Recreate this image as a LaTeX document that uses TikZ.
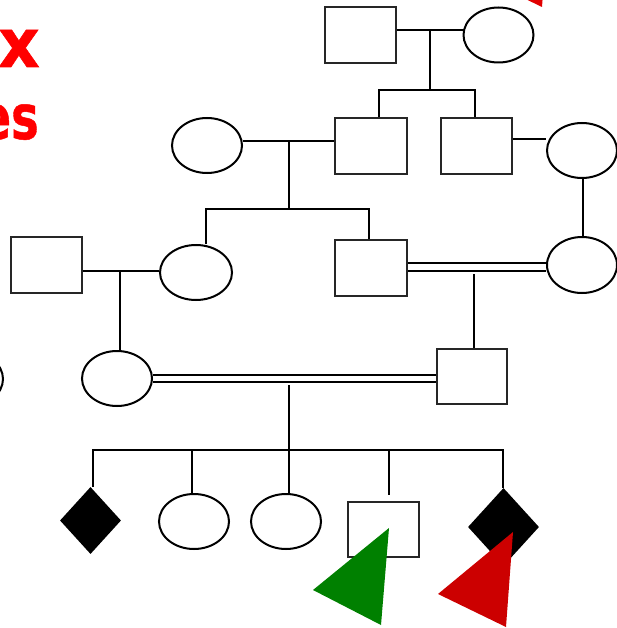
\documentclass[tikz,border=0pt]{standalone}
\usepackage{fontspec}
\newfontfamily\headfont{DejaVu Sans}[BoldFeatures={FakeBold=0.8}]
\usetikzlibrary{shapes.geometric}

\definecolor{arrowred}{RGB}{204,0,0}
\definecolor{toptri}{RGB}{225,0,0}
\definecolor{arrowgreen}{RGB}{0,128,0}

\tikzset{
  male/.style={rectangle, draw=black!85, line width=2pt, fill=white,
    minimum width=71pt, minimum height=56pt, inner sep=0pt},
  female/.style={ellipse, draw=black, line width=2pt, fill=white,
    minimum width=70pt, minimum height=55pt, inner sep=0pt},
  affected/.style={diamond, fill=black, inner sep=0pt},
  link/.style={line width=2pt},
  heavylink/.style={line width=2.8pt},
  consang/.style={line width=2pt, double=white},
  headline/.style={text=red, inner sep=0pt, anchor=base east},
}
% bold heading type, optionally condensed
\newcommand{\narrowhead}[3]{{\headfont\bfseries\fontsize{#1}{#1}\selectfont\scalebox{#2}[1]{#3}}}

\begin{document}
\begin{tikzpicture}[x=1pt, y=-1pt]
\useasboundingbox (0,0) rectangle (617,628);
\clip (0,0) rectangle (617,628);

% heading fragments
\node[headline] (head1) at (40,67) {\narrowhead{68}{0.95}{x}};
\node[headline] (head2) at (39,139) {\narrowhead{62}{0.75}{es}};

% generation I
\node[male]   (g1m) at (360.5,35) {};
\node[female] (g1f) at (498.5,35) {};

% generation II
\node[female] (g2a) at (207,145.5) {};
\node[male, minimum width=72pt] (g2b) at (371,146) {};
\node[male]   (g2c) at (476.5,146) {};
\node[female] (g2d) at (582,150.5) {};

% generation III
\node[male]   (g3a) at (46.5,265) {};
\node[female, minimum width=72pt] (g3b) at (196,272.5) {};
\node[male, minimum width=72pt] (g3c) at (371,268) {};
\node[female, minimum height=56pt] (g3d) at (582,265) {};

% generation IV
\node[female] (g4x) at (-32,379) {};
\node[female] (g4a) at (117,378.5) {};
\node[male, minimum width=70pt, minimum height=55pt] (g4b) at (472,376.5) {};

% generation V
\node[affected, minimum width=61pt, minimum height=67pt] (g5a) at (90.5,520.5) {};
\node[female] (g5b) at (194,521.5) {};
\node[female] (g5c) at (286,521.5) {};
\node[male, minimum height=55pt] (g5d) at (383.5,529.5) {};
\node[affected, minimum width=71pt, minimum height=78pt] (g5e) at (503.5,527) {};

% generation I mating and sibship
\coordinate (m1) at (430,30);
\coordinate (s1) at (430,90);
\draw[link] (g1m.east |- m1) -- (g1f.west |- m1);
\draw[link] (m1) -- (s1);
\coordinate (k1) at (379,90);
\coordinate (k2) at (475,90);
\draw[link] (k1 |- g2b.north) -- (k1) -- (k2) -- (k2 |- g2c.north);

% generation II matings
\coordinate (m2) at (289,141);
\coordinate (s2) at (289,209);
\draw[link] (g2a.east |- m2) -- (g2b.west |- m2);
\draw[link] (m2) -- (s2);
\coordinate (m2b) at (530,139);
\draw[link] (g2c.east |- m2b) -- (g2d.west |- m2b);
\coordinate (k0) at (583,0);
\draw[heavylink] (g2d.south -| k0) -- (g3d.north -| k0);

% generation II sibship
\coordinate (k3) at (206,209);
\coordinate (k4) at (369,209);
\draw[heavylink] (k3 |- g3b.north) -- (k3) -- (k4) -- (k4 |- g3c.north);

% generation III matings
\coordinate (m3) at (120,271);
\draw[link] (g3a.east |- m3) -- (g3b.west |- m3);
\draw[heavylink] (m3) -- (m3 |- g4a.north);
\coordinate (m3b) at (474,267);
\coordinate (d3) at (474,274);
\draw[consang, double distance=6pt] (g3c.east |- m3b) -- (g3d.west |- m3b);
\draw[link] (d3) -- (d3 |- g4b.north);

% generation IV mating
\coordinate (m4) at (289,378.5);
\coordinate (d4) at (289,385);
\coordinate (s4) at (289,450);
\draw[consang, double distance=4.7pt] (g4a.east |- m4) -- (g4b.west |- m4);
\draw[link] (d4) -- (s4);

% generation IV sibship
\coordinate (k5) at (93,450);
\coordinate (k6) at (503,450);
\coordinate (k7) at (192,450);
\coordinate (k8) at (389,450);
\draw[link] (k5 |- g5a.north) -- (k5) -- (k6) -- (k6 |- g5e.north);
\draw[link] (k7) -- (k7 |- g5b.north);
\draw[link] (s4) -- (s4 |- g5c.north);
\draw[link] (k8) -- ++(0,45);

% markers
\fill[arrowgreen] (389,528) -- (313,590) -- (381,625) -- cycle;
\fill[arrowred] (513,532) -- (438,594) -- (506,627) -- cycle;
\fill[toptri] (549,-88) -- (474,-26) -- (542,7) -- cycle;
\end{tikzpicture}
\end{document}
